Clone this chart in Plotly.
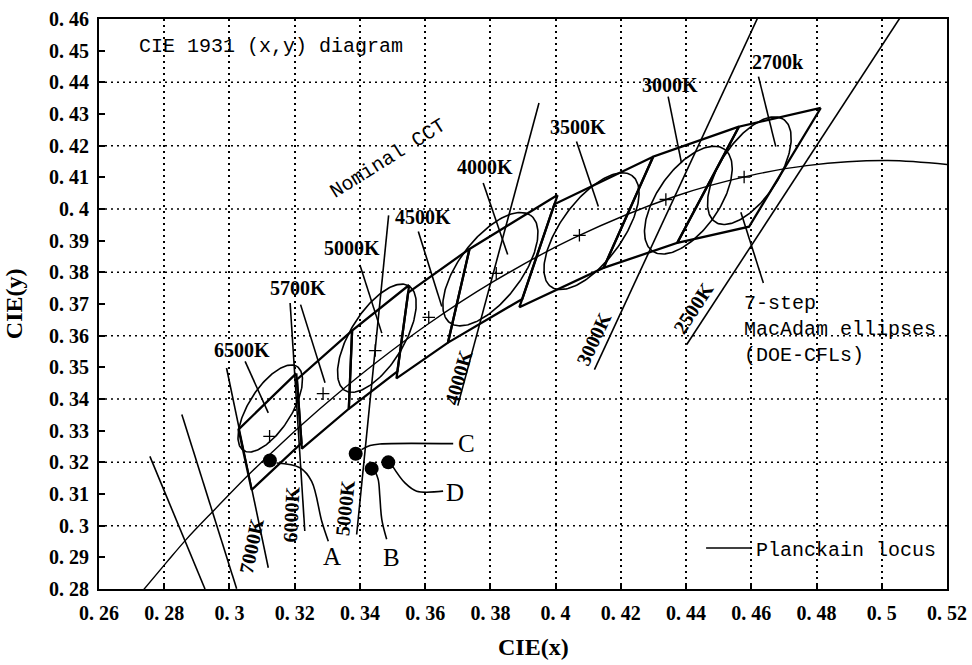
import numpy as np
import plotly.graph_objects as go

SERIF = "Liberation Serif"
MONO = "Liberation Mono"

# ---------------- data ----------------
# Planckian locus (CIE 1931)
planck_x = [0.2719, 0.2807, 0.2867, 0.2952, 0.3064, 0.3135, 0.3221, 0.3325, 0.3451,
            0.3608, 0.3805, 0.4053, 0.4369, 0.4599, 0.4770, 0.5018, 0.5267]
planck_y = [0.2776, 0.2884, 0.2956, 0.3048, 0.3166, 0.3236, 0.3318, 0.3411, 0.3516,
            0.3636, 0.3768, 0.3907, 0.4041, 0.4106, 0.4137, 0.4153, 0.4133]

# Nominal CCT quadrangles
quad_names = ["6500K", "5700K", "5000K", "4500K", "4000K", "3500K", "3000K", "2700k"]
quad_x = [[0.3205, 0.3028, 0.3068, 0.3221],
          [0.3376, 0.3207, 0.3222, 0.3366],
          [0.3551, 0.3376, 0.3366, 0.3515],
          [0.3736, 0.3548, 0.3512, 0.3670],
          [0.4006, 0.3736, 0.3670, 0.3898],
          [0.4299, 0.3996, 0.3889, 0.4147],
          [0.4562, 0.4299, 0.4147, 0.4373],
          [0.4813, 0.4562, 0.4373, 0.4593]]
quad_y = [[0.3481, 0.3304, 0.3113, 0.3261],
          [0.3616, 0.3462, 0.3243, 0.3369],
          [0.3760, 0.3616, 0.3369, 0.3487],
          [0.3874, 0.3736, 0.3465, 0.3578],
          [0.4044, 0.3874, 0.3578, 0.3716],
          [0.4165, 0.4015, 0.3690, 0.3814],
          [0.4260, 0.4165, 0.3814, 0.3893],
          [0.4319, 0.4260, 0.3893, 0.3944]]
center_x = [0.3123, 0.3287, 0.3447, 0.3611, 0.3818, 0.4073, 0.4338, 0.4578]
center_y = [0.3282, 0.3417, 0.3553, 0.3658, 0.3797, 0.3917, 0.4030, 0.4101]

# quad labels and their leader lines
qlabel_x = [0.3037, 0.3211, 0.3375, 0.3592, 0.3783, 0.4069, 0.4351, 0.4683]
qlabel_y = [0.3556, 0.3750, 0.3877, 0.3976, 0.4134, 0.4260, 0.4392, 0.4465]
qlead_x0 = [0.3048, 0.3218, 0.3400, 0.3579, 0.3778, 0.4064, 0.4345, 0.4622]
qlead_y0 = [0.3519, 0.3698, 0.3823, 0.3929, 0.4082, 0.4213, 0.4355, 0.4418]
qlead_x1 = [0.3119, 0.3293, 0.3467, 0.3651, 0.3853, 0.4131, 0.4386, 0.4675]
qlead_y1 = [0.3356, 0.3451, 0.3608, 0.3692, 0.3856, 0.4008, 0.4145, 0.4197]

# 7-step MacAdam ellipses (DOE-CFLs): centre, semi-axes, tilt (deg)
ell_cx = [0.3125, 0.3452, 0.3800, 0.4110, 0.4407, 0.4594]
ell_cy = [0.3370, 0.3592, 0.3810, 0.3930, 0.4028, 0.4121]
ell_a = [0.0156, 0.0192, 0.0210, 0.0215, 0.0195, 0.0193]
ell_b = [0.0066, 0.0083, 0.0096, 0.0095, 0.0095, 0.0090]
ell_t = [58.6, 59.6, 54.0, 55.0, 56.0, 57.6]

# isotherm (CCT) lines
iso_names = ["", "", "7000K", "6000K", "5000K", "4000K", "3000K", "2500K"]
iso_x0 = [0.2756, 0.2854, 0.2991, 0.3186, 0.3488, 0.3949, 0.4621, 0.5058]
iso_y0 = [0.3219, 0.3351, 0.3498, 0.3703, 0.3980, 0.4335, 0.4607, 0.4607]
iso_x1 = [0.2925, 0.3022, 0.3119, 0.3231, 0.3390, 0.3700, 0.4119, 0.4402]
iso_y1 = [0.2800, 0.2801, 0.2867, 0.2983, 0.2972, 0.3379, 0.3493, 0.3572]
iso_lab_x = [None, None, 0.3068, 0.3188, 0.3354, 0.3702, 0.4117, 0.4422]
iso_lab_y = [None, None, 0.2935, 0.3035, 0.3056, 0.3470, 0.3589, 0.3688]
iso_lab_ang = [None, None, -78, -87, -84, -74, -65, -57]

# measured points and call-outs
pt_names = ["A", "B", "C", "D"]
pt_x = [0.3124, 0.3436, 0.3387, 0.3487]
pt_y = [0.3206, 0.3180, 0.3227, 0.3200]
call_x = [[0.3145, 0.3216, 0.3252, 0.3283, 0.3303],
          [0.3446, 0.3456, 0.3461, 0.3467, 0.3482],
          [0.3405, 0.3431, 0.3461, 0.3686],
          [0.3500, 0.3538, 0.3574, 0.3655]]
call_y = [[0.3198, 0.3183, 0.3140, 0.3014, 0.2951],
          [0.3172, 0.3146, 0.3093, 0.3020, 0.2957],
          [0.3240, 0.3253, 0.3258, 0.3259],
          [0.3188, 0.3135, 0.3109, 0.3109]]
pt_lab_x = [0.3315, 0.3497, 0.3727, 0.3691]
pt_lab_y = [0.2902, 0.2899, 0.3261, 0.3104]

# MacAdam note
mac_lead_x = [0.4568, 0.4637]
mac_lead_y = [0.3990, 0.3766]

# axes
x_ticks = [0.26, 0.28, 0.30, 0.32, 0.34, 0.36, 0.38, 0.40, 0.42, 0.44, 0.46, 0.48, 0.50, 0.52]
x_ticktext = ["0. 26", "0. 28", "0. 3", "0. 32", "0. 34", "0. 36", "0. 38", "0. 4",
              "0. 42", "0. 44", "0. 46", "0. 48", "0. 5", "0. 52"]
y_ticks = [0.28, 0.29, 0.30, 0.31, 0.32, 0.33, 0.34, 0.35, 0.36, 0.37, 0.38, 0.39,
           0.40, 0.41, 0.42, 0.43, 0.44, 0.45, 0.46]
y_ticktext = ["0. 28", "0. 29", "0. 3", "0. 31", "0. 32", "0. 33", "0. 34", "0. 35",
              "0. 36", "0. 37", "0. 38", "0. 39", "0. 4", "0. 41", "0. 42", "0. 43",
              "0. 44", "0. 45", "0. 46"]
y_grid = [0.30, 0.32, 0.34, 0.36, 0.38, 0.40, 0.42, 0.44]

# ---------------- figure ----------------
fig = go.Figure()
BLACK = "black"


def segs(x0, y0, x1, y1):
    xs, ys = [], []
    for a, b, c, d in zip(x0, y0, x1, y1):
        xs += [a, c, None]
        ys += [b, d, None]
    return xs, ys


# isotherms
xs, ys = segs(iso_x0, iso_y0, iso_x1, iso_y1)
fig.add_trace(go.Scatter(x=xs, y=ys, mode="lines", line=dict(color=BLACK, width=1.6),
                         showlegend=False, hoverinfo="skip"))

# Planckian locus
fig.add_trace(go.Scatter(x=planck_x, y=planck_y, mode="lines", name="Planckain locus",
                         line=dict(color=BLACK, width=1.4, shape="spline"),
                         showlegend=True))

# ellipses
for cx, cy, a, b, t in zip(ell_cx, ell_cy, ell_a, ell_b, ell_t):
    s = np.linspace(0, 2 * np.pi, 181)
    th = np.radians(t)
    ex = cx + a * np.cos(s) * np.cos(th) - b * np.sin(s) * np.sin(th)
    ey = cy + a * np.cos(s) * np.sin(th) + b * np.sin(s) * np.cos(th)
    fig.add_trace(go.Scatter(x=ex, y=ey, mode="lines", line=dict(color=BLACK, width=1.6),
                             showlegend=False, hoverinfo="skip"))

# quadrangles
for qx, qy in zip(quad_x, quad_y):
    fig.add_trace(go.Scatter(x=qx + [qx[0]], y=qy + [qy[0]], mode="lines",
                             line=dict(color=BLACK, width=2.3),
                             showlegend=False, hoverinfo="skip"))

# centre crosses
fig.add_trace(go.Scatter(x=center_x, y=center_y, mode="markers",
                         marker=dict(symbol="cross-thin", size=9,
                                     line=dict(color=BLACK, width=1.3)),
                         showlegend=False, hoverinfo="skip"))

# label leaders
xs, ys = segs(qlead_x0, qlead_y0, qlead_x1, qlead_y1)
xs += mac_lead_x
ys += mac_lead_y
fig.add_trace(go.Scatter(x=xs, y=ys, mode="lines", line=dict(color=BLACK, width=1.6),
                         showlegend=False, hoverinfo="skip"))

# call-outs
for cxs, cys in zip(call_x, call_y):
    fig.add_trace(go.Scatter(x=cxs, y=cys, mode="lines",
                             line=dict(color=BLACK, width=1.6, shape="spline"),
                             showlegend=False, hoverinfo="skip"))

# measured points
fig.add_trace(go.Scatter(x=pt_x, y=pt_y, mode="markers",
                         marker=dict(size=14, color=BLACK),
                         showlegend=False, hoverinfo="skip"))

LBL = dict(family=SERIF, size=20, color=BLACK, weight="bold")
ann = []
for n, x, y in zip(quad_names, qlabel_x, qlabel_y):
    ann.append(dict(x=x, y=y, text=n, showarrow=False, xanchor="center", yanchor="middle",
                    font=LBL))
for n, x, y, ang in zip(iso_names, iso_lab_x, iso_lab_y, iso_lab_ang):
    if n:
        ann.append(dict(x=x, y=y, text=n, showarrow=False, textangle=ang,
                        xanchor="center", yanchor="middle", font=LBL))
for n, x, y in zip(pt_names, pt_lab_x, pt_lab_y):
    ann.append(dict(x=x, y=y, text=n, showarrow=False, xanchor="center", yanchor="middle",
                    font=dict(family=SERIF, size=25, color=BLACK)))

ann.append(dict(x=0.2717, y=0.4512, text="CIE 1931 (x,y) diagram", showarrow=False,
                xanchor="left", yanchor="middle", font=dict(family=MONO, size=20, color=BLACK)))
ann.append(dict(x=0.3487, y=0.4160, text="Nominal CCT", showarrow=False, textangle=-32,
                xanchor="center", yanchor="middle", font=dict(family=MONO, size=20, color=BLACK)))
ann.append(dict(x=0.4570, y=0.3620, text="7-step<br>MacAdam ellipses<br>(DOE-CFLs)",
                showarrow=False, xanchor="left", yanchor="middle", align="left",
                font=dict(family=MONO, size=20, color=BLACK)))
ann.append(dict(x=-0.1, y=0.5, xref="paper", yref="paper", text="CIE(y)", showarrow=False,
                textangle=-90, xanchor="center", yanchor="middle",
                font=dict(family=SERIF, size=24, color=BLACK, weight="bold")))
ann.append(dict(x=0.512, y=-0.102, xref="paper", yref="paper", text="CIE(x)", showarrow=False,
                xanchor="center", yanchor="middle",
                font=dict(family=SERIF, size=24, color=BLACK, weight="bold")))

shapes = []
for g in y_grid:
    shapes.append(dict(type="line", xref="paper", yref="y", x0=0, x1=1, y0=g, y1=g,
                       layer="below", line=dict(color=BLACK, width=1.5, dash="2px,4px")))

fig.update_layout(
    width=972, height=665,
    margin=dict(l=99, r=25, t=19, b=76, autoexpand=False),
    paper_bgcolor="white", plot_bgcolor="white",
    annotations=ann, shapes=shapes,
    legend=dict(x=0.71, y=0.072, xanchor="left", yanchor="middle",
                bgcolor="rgba(0,0,0,0)", borderwidth=0,
                font=dict(family=MONO, size=20, color=BLACK), itemwidth=45),
    xaxis=dict(range=[0.26, 0.52], tickvals=x_ticks, ticktext=x_ticktext, automargin=False,
               showgrid=True, gridcolor=BLACK, gridwidth=1.5, griddash="2px,4px",
               zeroline=False, showline=True, linecolor=BLACK, linewidth=2, mirror=True,
               ticks="inside", ticklen=6, tickwidth=1.5, tickcolor=BLACK,
               ticklabelstandoff=5,
               tickfont=dict(family=SERIF, size=20, color=BLACK, weight="bold")),
    yaxis=dict(range=[0.28, 0.46], tickvals=y_ticks, ticktext=y_ticktext, automargin=False,
               showgrid=False, zeroline=False, showline=True, linecolor=BLACK, linewidth=2,
               mirror=True, ticks="inside", ticklen=6, tickwidth=1.5, tickcolor=BLACK,
               ticklabelstandoff=4,
               tickfont=dict(family=SERIF, size=20, color=BLACK, weight="bold")),
)

fig.write_html("out.html",
               config={"displayModeBar": False},
               post_script="document.body.style.margin='0';"
                           "document.body.style.overflow='hidden';")
